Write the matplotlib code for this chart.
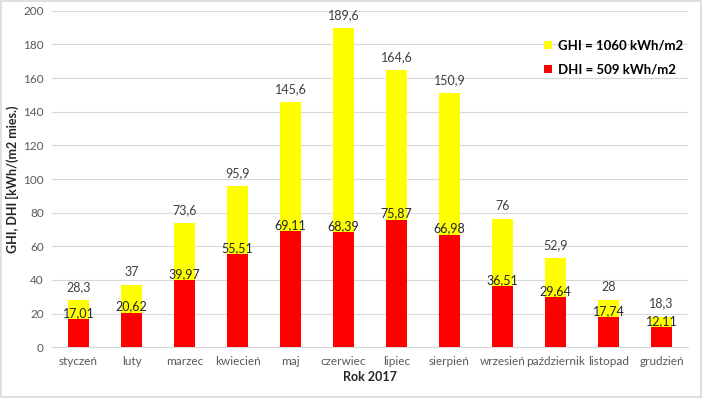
import matplotlib
matplotlib.use("Agg")
import matplotlib.pyplot as plt
from matplotlib.patches import Rectangle
import numpy as np

plt.rcParams['font.family'] = ['Lato', 'DejaVu Sans']

months = ["styczeń", "luty", "marzec", "kwiecień", "maj", "czerwiec", "lipiec",
          "sierpień", "wrzesień", "październik", "listopad", "grudzień"]
ghi = [28.3, 37, 73.6, 95.9, 145.6, 189.6, 164.6, 150.9, 76, 52.9, 28, 18.3]
dhi = [17.01, 20.62, 39.97, 55.51, 69.11, 68.39, 75.87, 66.98, 36.51, 29.64, 17.74, 12.11]
ghi_labels = ["28,3", "37", "73,6", "95,9", "145,6", "189,6", "164,6", "150,9", "76", "52,9", "28", "18,3"]
dhi_labels = ["17,01", "20,62", "39,97", "55,51", "69,11", "68,39", "75,87", "66,98", "36,51", "29,64", "17,74", "12,11"]
legend_labels = ["GHI = 1060 kWh/m2", "DHI = 509 kWh/m2"]
yticks = [0, 20, 40, 60, 80, 100, 120, 140, 160, 180, 200]

fig = plt.figure(figsize=(7.04, 3.98), dpi=100)
ax = fig.add_axes([52/704, 1 - 347.3/398, (688-52)/704, (347.3-10.7)/398])

x = np.arange(len(months))
w = 0.4
b1 = ax.bar(x, ghi, width=w, color="#FFFF00", zorder=2, label=legend_labels[0])
b2 = ax.bar(x, dhi, width=w, color="#FF0000", zorder=3, label=legend_labels[1])

for xi, v, s in zip(x, ghi, ghi_labels):
    ax.annotate(s, (xi, v), xytext=(0, 5), textcoords="offset points",
                ha="center", va="bottom", fontsize=9, color="#404040", zorder=5)
for xi, v, s in zip(x, dhi, dhi_labels):
    ax.annotate(s, (xi, v), xytext=(0, 0), textcoords="offset points",
                ha="center", va="bottom", fontsize=9, color="#262626", zorder=5)

ax.set_ylim(0, 200)
ax.set_xlim(-0.5, len(months) - 0.5)
ax.set_yticks(yticks)
ax.set_xticks(x)
ax.set_xticklabels(months)
ax.tick_params(axis="both", length=0, labelsize=8.5, colors="#595959", pad=6)
ax.grid(axis="y", color="#D9D9D9", linewidth=0.8, zorder=0)
ax.set_axisbelow(True)
for s in ["top", "right", "left"]:
    ax.spines[s].set_visible(False)
ax.spines["bottom"].set_color("#D9D9D9")
ax.spines["bottom"].set_linewidth(0.8)

ax.set_xlabel("Rok 2017", fontsize=9, fontweight="bold", color="#262626", labelpad=3)
ax.set_ylabel("GHI, DHI [kWh/(m2 mies.)", fontsize=9, fontweight="bold", color="#262626", labelpad=3)

leg = ax.legend(handles=[b1, b2], loc="upper right", bbox_to_anchor=(1.0, 0.93),
                frameon=False, prop={"weight": "bold", "size": 9.5},
                handlelength=0.6, handleheight=0.6, handletextpad=0.4, labelspacing=0.9,
                borderaxespad=0)
for t in leg.get_texts():
    t.set_color("#000000")

fig.patches.append(Rectangle((0.002, 0.003), 0.994, 0.994, transform=fig.transFigure,
                             fill=False, edgecolor="#D9D9D9", linewidth=1.2))

fig.savefig("out.png", dpi=100)
